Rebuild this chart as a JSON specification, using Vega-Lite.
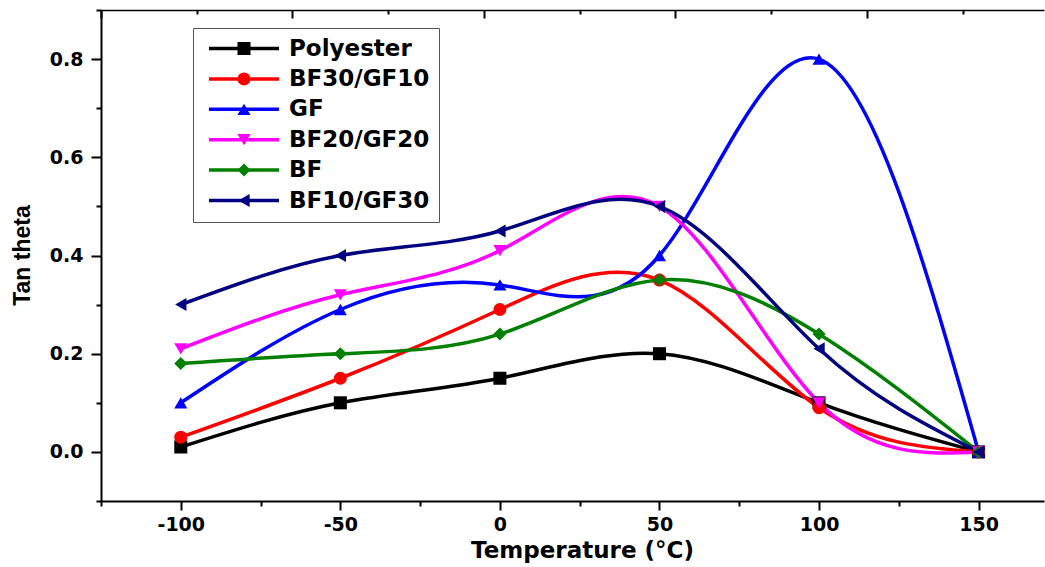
{
  "$schema": "https://vega.github.io/schema/vega-lite/v6.json",
  "autosize": {"type": "none"},
  "padding": {"left": 101, "top": 10, "right": 1, "bottom": 66},
  "width": 943,
  "height": 491,
  "background": "white",
  "config": {"view": {"stroke": null}},
  "data": {"values": [
    {"series": "Polyester", "t": -100, "v": 0.01},
    {"series": "Polyester", "t": -50, "v": 0.10},
    {"series": "Polyester", "t": 0, "v": 0.15},
    {"series": "Polyester", "t": 50, "v": 0.20},
    {"series": "Polyester", "t": 100, "v": 0.10},
    {"series": "Polyester", "t": 150, "v": 0.0},
    {"series": "BF30/GF10", "t": -100, "v": 0.03},
    {"series": "BF30/GF10", "t": -50, "v": 0.15},
    {"series": "BF30/GF10", "t": 0, "v": 0.29},
    {"series": "BF30/GF10", "t": 50, "v": 0.35},
    {"series": "BF30/GF10", "t": 100, "v": 0.09},
    {"series": "BF30/GF10", "t": 150, "v": 0.0},
    {"series": "GF", "t": -100, "v": 0.10},
    {"series": "GF", "t": -50, "v": 0.29},
    {"series": "GF", "t": 0, "v": 0.34},
    {"series": "GF", "t": 50, "v": 0.40},
    {"series": "GF", "t": 100, "v": 0.80},
    {"series": "GF", "t": 150, "v": 0.0},
    {"series": "BF20/GF20", "t": -100, "v": 0.21},
    {"series": "BF20/GF20", "t": -50, "v": 0.32},
    {"series": "BF20/GF20", "t": 0, "v": 0.41},
    {"series": "BF20/GF20", "t": 50, "v": 0.50},
    {"series": "BF20/GF20", "t": 100, "v": 0.10},
    {"series": "BF20/GF20", "t": 150, "v": 0.0},
    {"series": "BF", "t": -100, "v": 0.18},
    {"series": "BF", "t": -50, "v": 0.20},
    {"series": "BF", "t": 0, "v": 0.24},
    {"series": "BF", "t": 50, "v": 0.35},
    {"series": "BF", "t": 100, "v": 0.24},
    {"series": "BF", "t": 150, "v": 0.0},
    {"series": "BF10/GF30", "t": -100, "v": 0.30},
    {"series": "BF10/GF30", "t": -50, "v": 0.40},
    {"series": "BF10/GF30", "t": 0, "v": 0.45},
    {"series": "BF10/GF30", "t": 50, "v": 0.50},
    {"series": "BF10/GF30", "t": 100, "v": 0.21},
    {"series": "BF10/GF30", "t": 150, "v": 0.0}
  ]},
  "resolve": {
    "axis": {"x": "independent"},
    "legend": {"color": "independent", "shape": "independent"}
  },
  "layer": [
    {
      "mark": {"type": "line", "interpolate": "natural", "strokeWidth": 3.5},
      "encoding": {
        "x": {
          "field": "t", "type": "quantitative",
          "scale": {"domain": [-125, 170.5], "nice": false, "zero": false},
          "axis": {
            "orient": "bottom",
            "values": [-125, -100, -75, -50, -25, 0, 25, 50, 75, 100, 125, 150],
            "labelExpr": "datum.value % 50 == 0 ? '' + datum.value : ''",
            "labelFlush": false, "labelOverlap": false,
            "labelFont": "DejaVu Sans", "labelFontSize": 19, "labelFontWeight": "bold", "labelColor": "black",
            "labelPadding": 5,
            "tickSize": {"condition": {"test": "datum.value % 50 == 0", "value": 9}, "value": 5},
            "tickWidth": 2, "tickColor": "black",
            "domainColor": "black", "domainWidth": 2,
            "grid": false,
            "title": "Temperature (°C)",
            "titleFont": "DejaVu Sans", "titleFontSize": 23, "titleFontWeight": "bold", "titleColor": "black",
            "titleX": 481, "titleY": 49, "titleBaseline": "middle", "titleAlign": "center"
          }
        },
        "y": {
          "field": "v", "type": "quantitative",
          "scale": {"domain": [-0.1, 0.9], "nice": false, "zero": false},
          "axis": {
            "orient": "left",
            "values": [-0.1, 0, 0.1, 0.2, 0.3, 0.4, 0.5, 0.6, 0.7, 0.8, 0.9],
            "labelExpr": "round(datum.value * 10) % 2 == 0 ? format(datum.value, '.1f') : ''",
            "labelOverlap": false, "labelFlush": false,
            "labelFont": "DejaVu Sans", "labelFontSize": 19, "labelFontWeight": "bold", "labelColor": "black",
            "labelPadding": 8,
            "tickSize": {"condition": {"test": "round(datum.value * 10) % 2 == 0", "value": 10}, "value": 5},
            "tickWidth": 2, "tickColor": "black",
            "domainColor": "black", "domainWidth": 2,
            "grid": false,
            "title": "Tan theta",
            "titleFont": "Liberation Sans", "titleFontSize": 23, "titleFontWeight": "bold", "titleColor": "black",
            "titleX": -79, "titleY": 245, "titleAngle": -90, "titleBaseline": "middle", "titleAlign": "center"
          }
        },
        "color": {
          "field": "series", "type": "nominal",
          "scale": {
            "domain": ["Polyester", "BF30/GF10", "GF", "BF20/GF20", "BF", "BF10/GF30"],
            "range": ["#000000", "#ff0000", "#0000ff", "#ff00ff", "#008000", "#000080"]
          },
          "legend": {
            "orient": "none", "legendX": 92, "legendY": 18, "direction": "vertical",
            "title": null,
            "symbolType": "M-0.5,0H7.278", "symbolSize": 324, "symbolStrokeWidth": 3.5,
            "labelOffset": 64,
            "labelFont": "DejaVu Sans", "labelFontSize": 23, "labelFontWeight": "bold", "labelColor": "black",
            "strokeColor": "#555555", "padding": 9, "rowPadding": 6.4
          }
        },
        "order": {"field": "t", "type": "quantitative"}
      }
    },
    {
      "mark": {"type": "point", "filled": true, "opacity": 1, "size": 170, "strokeWidth": 0},
      "encoding": {
        "x": {
          "field": "t", "type": "quantitative",
          "axis": {
            "orient": "top",
            "values": [-125, -95, -65, -35, -5, 25, 55, 85, 115, 145],
            "labels": false,
            "tickSize": {"condition": {"test": "(datum.value + 125) % 60 == 0", "value": -8}, "value": -4},
            "tickWidth": 2, "tickColor": "black",
            "domainColor": "black", "domainWidth": 1.5,
            "grid": false, "title": null
          }
        },
        "y": {"field": "v", "type": "quantitative"},
        "color": {
          "field": "series", "type": "nominal",
          "legend": {
            "orient": "none", "legendX": 122.5, "legendY": 18, "direction": "vertical",
            "title": null,
            "symbolSize": 170, "symbolStrokeWidth": 0, "symbolOpacity": 1,
            "labelOffset": 13, "labelExpr": "' '",
            "labelFont": "DejaVu Sans", "labelFontSize": 23, "labelFontWeight": "bold", "labelOpacity": 0,
            "padding": 9, "rowPadding": 6.4
          }
        },
        "shape": {
          "field": "series", "type": "nominal",
          "scale": {
            "domain": ["Polyester", "BF30/GF10", "GF", "BF20/GF20", "BF", "BF10/GF30"],
            "range": ["square", "circle", "triangle-up", "triangle-down", "diamond", "triangle-left"]
          },
          "legend": {
            "orient": "none", "legendX": 122.5, "legendY": 18, "direction": "vertical",
            "title": null,
            "symbolSize": 170, "symbolStrokeWidth": 0, "symbolOpacity": 1,
            "labelOffset": 13, "labelExpr": "' '",
            "labelFont": "DejaVu Sans", "labelFontSize": 23, "labelFontWeight": "bold", "labelOpacity": 0,
            "padding": 9, "rowPadding": 6.4
          }
        }
      }
    }
  ]
}
